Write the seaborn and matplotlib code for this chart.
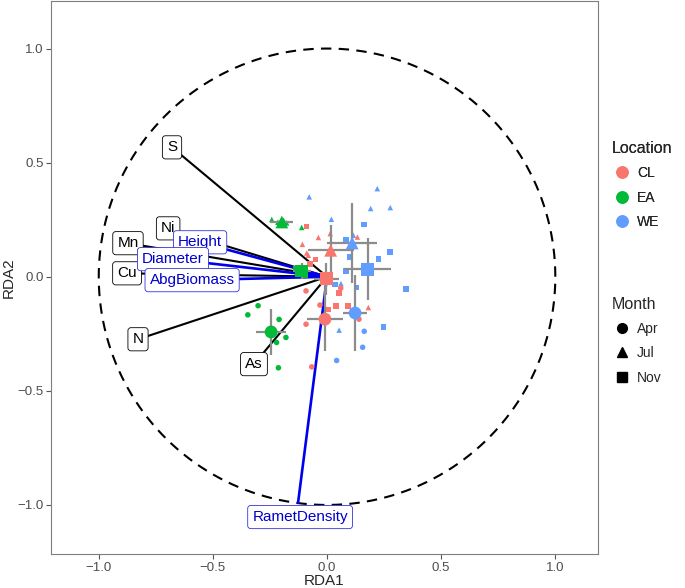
import numpy as np
import pandas as pd
import matplotlib
matplotlib.use("Agg")
import matplotlib.pyplot as plt
from matplotlib.lines import Line2D
import seaborn as sns

sns.set_style("white")
plt.rcParams["font.family"] = ["Liberation Sans", "DejaVu Sans"]

# individual samples
loc_pts = (["WE"] * 8 + ["WE"] * 10 + ["WE"] * 3 + ["CL"] * 7 + ["CL"] * 7 + ["CL"] * 6
           + ["EA"] * 6 + ["EA"] * 6 + ["EA"] * 3)
month_pts = (["Jul"] * 8 + ["Nov"] * 10 + ["Apr"] * 3 + ["Jul"] * 7 + ["Nov"] * 7 + ["Apr"] * 6
             + ["Apr"] * 6 + ["Jul"] * 6 + ["Nov"] * 3)
x_pts = [-0.078, 0.220, 0.191, 0.277, 0.019, 0.115, 0.061, 0.053,
         0.163, 0.083, 0.101, 0.226, 0.277, 0.082, 0.035, 0.130, 0.345, 0.247,
         0.163, 0.156, 0.042,
         -0.038, 0.014, -0.108, -0.089, 0.133, 0.181, -0.082,
         -0.089, -0.051, 0.039, 0.091, 0.007, -0.074, 0.053,
         -0.092, 0.060, -0.031, -0.092, 0.140, -0.067,
         -0.302, -0.347, -0.210, -0.180, -0.221, -0.213,
         -0.242, -0.203, -0.190, -0.177, -0.215, -0.111,
         -0.115, -0.136, -0.096]
y_pts = [0.350, 0.386, 0.299, 0.303, 0.252, 0.182, -0.030, -0.234,
         0.229, 0.164, 0.087, 0.077, 0.109, 0.025, -0.034, -0.047, -0.053, -0.220,
         -0.239, -0.309, -0.367,
         0.172, 0.189, 0.142, 0.104, 0.174, -0.135, 0.094,
         0.221, 0.075, -0.129, -0.129, -0.144, 0.055, -0.072,
         -0.062, -0.050, -0.124, -0.208, -0.186, -0.395,
         -0.127, -0.167, -0.187, -0.266, -0.288, -0.399,
         0.251, 0.243, 0.247, 0.236, 0.239, 0.216,
         0.021, 0.037, 0.007]

# group centroids with spread
loc_c = ["CL", "CL", "CL", "EA", "EA", "EA", "WE", "WE", "WE"]
month_c = ["Apr", "Jul", "Nov", "Apr", "Jul", "Nov", "Apr", "Jul", "Nov"]
x_c = [-0.009, 0.016, -0.004, -0.245, -0.198, -0.111, 0.123, 0.110, 0.178]
y_c = [-0.186, 0.116, -0.008, -0.242, 0.240, 0.025, -0.159, 0.148, 0.033]
xerr_c = [0.079, 0.100, 0.055, 0.064, 0.050, 0.040, 0.053, 0.110, 0.102]
yerr_c = [0.140, 0.110, 0.070, 0.100, 0.015, 0.035, 0.168, 0.175, 0.135]

# environmental vectors
env_names = ["S", "Ni", "Mn", "Cu", "N", "As"]
env_x = [-0.679, -0.696, -0.872, -0.876, -0.828, -0.320]
env_y = [0.567, 0.212, 0.147, 0.015, -0.274, -0.383]

# trait vectors
trait_names = ["Height", "Diameter", "AbgBiomass", "RametDensity"]
trait_x = [-0.556, -0.675, -0.591, -0.127]
trait_y = [0.151, 0.077, -0.015, -0.991]
trait_lx = [-0.556, -0.675, -0.591, -0.118]
trait_ly = [0.151, 0.077, -0.015, -1.053]

palette = {"CL": "#F8766D", "EA": "#00BA38", "WE": "#619CFF"}
markers = {"Apr": "o", "Jul": "^", "Nov": "s"}

pts = pd.DataFrame({"RDA1": x_pts, "RDA2": y_pts, "Location": loc_pts, "Month": month_pts})
cen = pd.DataFrame({"RDA1": x_c, "RDA2": y_c, "xerr": xerr_c, "yerr": yerr_c,
                    "Location": loc_c, "Month": month_c})

fig = plt.figure(figsize=(6.85, 5.88), dpi=100)
ax = fig.add_axes([0.0745, 0.0578, 0.7985, 0.940])

t = np.linspace(0, 2 * np.pi, 400)
ax.plot(np.cos(t), np.sin(t), color="black", lw=1.5, ls=(0, (5, 3.5)), zorder=1)

for xe, ye in zip(env_x, env_y):
    ax.plot([0, xe], [0, ye], color="black", lw=1.5, zorder=2)
for xe, ye in zip(trait_x, trait_y):
    ax.plot([0, xe], [0, ye], color="#0000EE", lw=1.9, zorder=2)

sns.scatterplot(data=pts, x="RDA1", y="RDA2", hue="Location", style="Month",
                palette=palette, markers=markers, s=16, linewidth=0, legend=False,
                ax=ax, zorder=3)

ax.errorbar(cen["RDA1"], cen["RDA2"], xerr=cen["xerr"], yerr=cen["yerr"], fmt="none",
            ecolor="#8C8C8C", elinewidth=1.6, capsize=0, zorder=4)
sns.scatterplot(data=cen, x="RDA1", y="RDA2", hue="Location", style="Month",
                palette=palette, markers=markers, s=85, linewidth=0, legend=False,
                ax=ax, zorder=5)

for n, xe, ye in zip(env_names, env_x, env_y):
    ax.text(xe, ye, n, ha="center", va="center", fontsize=11, color="black", zorder=6,
            bbox=dict(boxstyle="round,pad=0.3,rounding_size=0.2", fc="white", ec="black", lw=0.6))
for n, xe, ye in zip(trait_names, trait_lx, trait_ly):
    ax.text(xe, ye, n, ha="center", va="center", fontsize=11, color="#0000CD", zorder=7,
            bbox=dict(boxstyle="round,pad=0.3,rounding_size=0.2", fc="white", ec="#3333DD", lw=0.6))

ax.set_xlim(-1.209, 1.187)
ax.set_ylim(-1.215, 1.207)
ax.set_xticks([-1.0, -0.5, 0.0, 0.5, 1.0])
ax.set_yticks([-1.0, -0.5, 0.0, 0.5, 1.0])
ax.set_xticklabels(["\u22121.0", "\u22120.5", "0.0", "0.5", "1.0"])
ax.set_yticklabels(["\u22121.0", "\u22120.5", "0.0", "0.5", "1.0"])
ax.tick_params(axis="both", direction="out", length=3.5, width=0.8, color="#555555",
               labelcolor="#4D4D4D", labelsize=9.5, left=True, bottom=True, pad=2)
ax.set_xlabel("RDA1", fontsize=11, labelpad=0)
ax.set_ylabel("RDA2", fontsize=11, labelpad=1)
for sp in ax.spines.values():
    sp.set_color("#7F7F7F")
    sp.set_linewidth(0.8)

loc_handles = [Line2D([], [], marker="o", ls="", color=palette[k], markersize=8, label=k)
               for k in ["CL", "EA", "WE"]]
mon_handles = [Line2D([], [], marker=markers[k], ls="", color="black", markersize=7, label=k)
               for k in ["Apr", "Jul", "Nov"]]
leg1 = fig.legend(handles=loc_handles, title="Location", loc="upper left",
                  bbox_to_anchor=(0.875, 0.782), frameon=False, fontsize=10,
                  title_fontsize=11.5, handletextpad=0.3, labelspacing=0.75,
                  alignment="left", handlelength=1.5)
fig.add_artist(leg1)
fig.legend(handles=mon_handles, title="Month", loc="upper left",
           bbox_to_anchor=(0.875, 0.517), frameon=False, fontsize=10,
           title_fontsize=11.5, handletextpad=0.3, labelspacing=0.75,
           alignment="left", handlelength=1.5)

fig.savefig("out.png", dpi=100)
